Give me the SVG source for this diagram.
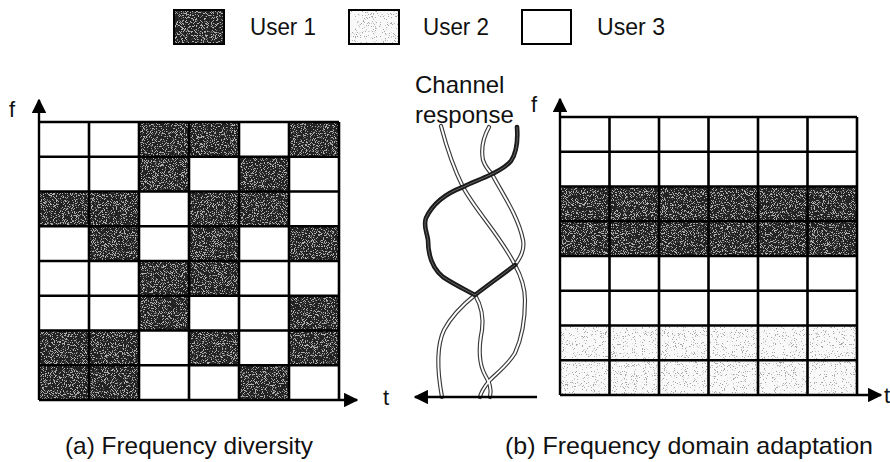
<svg xmlns="http://www.w3.org/2000/svg" width="890" height="462" viewBox="0 0 890 462">
<style>
.lbl{font-family:"Liberation Sans",Arial,sans-serif;font-size:24px;fill:#111}
.ax{font-family:"Liberation Sans",Arial,sans-serif;font-size:22px;fill:#111}
.grid{fill:none;stroke:#000;stroke-width:2.6}
.axis{fill:none;stroke:#000;stroke-width:2.4}
.dark{fill:#222}
.light{fill:#f9f9f9}
.box{stroke:#000;stroke-width:2}
.dbl-o{fill:none;stroke:#3a3a3a;stroke-width:4.2;stroke-linecap:round}
.dbl-i{fill:none;stroke:#fff;stroke-width:1.9;stroke-linecap:round}
.thk-o{fill:none;stroke:#1a1a1a;stroke-width:4.6;stroke-linecap:round}
.thk-i{fill:none;stroke:#666;stroke-width:1}
</style>
<defs>
<filter id="speckD" x="0" y="0" width="1" height="1" color-interpolation-filters="sRGB">
<feTurbulence type="fractalNoise" baseFrequency="1.1" numOctaves="2" seed="7" result="n"/>
<feColorMatrix in="n" type="matrix" values="0 0 0 0 0.7  0 0 0 0 0.7  0 0 0 0 0.7  14 0 0 0 -7.7" result="dots"/>
<feComposite in="dots" in2="SourceAlpha" operator="in" result="d2"/>
<feMerge><feMergeNode in="SourceGraphic"/><feMergeNode in="d2"/></feMerge>
</filter>
<filter id="speckL" x="0" y="0" width="1" height="1" color-interpolation-filters="sRGB">
<feTurbulence type="fractalNoise" baseFrequency="1.1" numOctaves="2" seed="3" result="n"/>
<feColorMatrix in="n" type="matrix" values="0 0 0 0 0.65  0 0 0 0 0.65  0 0 0 0 0.65  14 0 0 0 -8.8" result="dots"/>
<feComposite in="dots" in2="SourceAlpha" operator="in" result="d2"/>
<feMerge><feMergeNode in="SourceGraphic"/><feMergeNode in="d2"/></feMerge>
</filter>
<path id="cA" d="M441,126 C446,145 452,165 463,187 C475,210 500,235 515,265 C521,276 525,288 525,300 C525,320 521,340 515,353 C508,365 497,373 490,380 C485,386 481,392 480,397"/>
<path id="cB" d="M489,127 C483,138 481,150 483,160 C485,166 488,170 492,174 C500,190 518,215 523,240 C525,250 520,258 515,265"/>
<path id="cL" d="M475,295 C465,303 452,315 444,330 C437,345 437,370 442,397"/>
<path id="cM" d="M475,295 C481,305 484,315 482,330 C479,345 478,362 485,375 C489,382 492,388 490,397"/>
<path id="cT" d="M517,127 C518,140 517,152 511,161 C505,168 498,171 492,174 C482,179 471,183 463,187 C447,193 433,203 426,218 C423,226 427,232 428,240 C428,255 432,268 443,277 C455,285 466,290 475,295 C488,285 502,275 515,265"/>
<marker id="arr" viewBox="0 0 10 10" refX="9" refY="5" markerWidth="6" markerHeight="6" markerUnits="strokeWidth" orient="auto">
<path d="M0,0 L10,5 L0,10 z" fill="#000"/>
</marker>
</defs>
<rect width="890" height="462" fill="#fff"/>

<g id="legend">
<g id="legend-user1">
<rect class="box dark" x="174" y="10" width="50" height="34" filter="url(#speckD)"/>
<rect x="174" y="10" width="50" height="34" fill="none" stroke="#000" stroke-width="2"/>
<text class="lbl" x="250" y="35" textLength="66" lengthAdjust="spacingAndGlyphs">User 1</text>
</g>
<g id="legend-user2">
<rect class="box light" x="349" y="10" width="50" height="34" filter="url(#speckL)"/>
<rect x="349" y="10" width="50" height="34" fill="none" stroke="#000" stroke-width="2"/>
<text class="lbl" x="423" y="35" textLength="66" lengthAdjust="spacingAndGlyphs">User 2</text>
</g>
<g id="legend-user3">
<rect x="522" y="10" width="49" height="34" fill="#fff" stroke="#000" stroke-width="2"/>
<text class="lbl" x="597" y="35" textLength="68" lengthAdjust="spacingAndGlyphs">User 3</text>
</g>
</g>

<g id="grid-a">
<g class="dark" filter="url(#speckD)">
<rect x="139" y="122" width="50" height="34.75"/><rect x="189" y="122" width="50" height="34.75"/><rect x="289" y="122" width="50" height="34.75"/>
<rect x="139" y="156.75" width="50" height="34.75"/><rect x="239" y="156.75" width="50" height="34.75"/>
<rect x="39" y="191.5" width="50" height="34.75"/><rect x="89" y="191.5" width="50" height="34.75"/><rect x="189" y="191.5" width="50" height="34.75"/><rect x="239" y="191.5" width="50" height="34.75"/>
<rect x="89" y="226.25" width="50" height="34.75"/><rect x="189" y="226.25" width="50" height="34.75"/><rect x="289" y="226.25" width="50" height="34.75"/>
<rect x="139" y="261" width="50" height="34.75"/><rect x="189" y="261" width="50" height="34.75"/>
<rect x="139" y="295.75" width="50" height="34.75"/><rect x="289" y="295.75" width="50" height="34.75"/>
<rect x="39" y="330.5" width="50" height="34.75"/><rect x="89" y="330.5" width="50" height="34.75"/><rect x="189" y="330.5" width="50" height="34.75"/><rect x="289" y="330.5" width="50" height="34.75"/>
<rect x="39" y="365.25" width="50" height="34.75"/><rect x="89" y="365.25" width="50" height="34.75"/><rect x="239" y="365.25" width="50" height="34.75"/>
</g>
<path class="grid" d="M89,122V400 M139,122V400 M189,122V400 M239,122V400 M289,122V400 M339,122V400 M39,122H339 M39,156.75H339 M39,191.5H339 M39,226.25H339 M39,261H339 M39,295.75H339 M39,330.5H339 M39,365.25H339"/>
</g>

<g id="grid-b">
<rect class="dark" x="560" y="186.5" width="297" height="69.5" filter="url(#speckD)"/>
<rect class="light" x="560" y="325.5" width="297" height="69.5" filter="url(#speckL)"/>
<path class="grid" d="M609.5,117V395 M659,117V395 M708.5,117V395 M758,117V395 M807.5,117V395 M857,117V395 M560,117H857 M560,151.75H857 M560,186.5H857 M560,221.25H857 M560,256H857 M560,290.75H857 M560,325.5H857 M560,360.25H857"/>
</g>

<g id="channel-response">
<use href="#cA" class="dbl-o"/><use href="#cB" class="dbl-o"/><use href="#cL" class="dbl-o"/><use href="#cM" class="dbl-o"/>
<use href="#cA" class="dbl-i"/><use href="#cB" class="dbl-i"/><use href="#cL" class="dbl-i"/><use href="#cM" class="dbl-i"/>
<use href="#cT" class="thk-o"/><use href="#cT" class="thk-i"/>
<text class="lbl" x="415" y="93">Channel</text>
<text class="lbl" x="415" y="123">response</text>
</g>

<g id="connectors">
<path class="axis" d="M39,400 V100" marker-end="url(#arr)"/>
<path class="axis" d="M39,400 H357" marker-end="url(#arr)"/>
<path class="axis" d="M537,397 H415" marker-end="url(#arr)"/>
<path class="axis" d="M560,395 V99" marker-end="url(#arr)"/>
<path class="axis" d="M560,395 H881" marker-end="url(#arr)"/>
</g>

<g id="axis-labels">
<text class="ax" x="9" y="117">f</text>
<text class="ax" x="531" y="112">f</text>
<text class="ax" x="383" y="405">t</text>
<text class="ax" x="884" y="403">t</text>
</g>

<g id="captions">
<text class="lbl" x="65" y="454" textLength="248" lengthAdjust="spacingAndGlyphs">(a) Frequency diversity</text>
<text class="lbl" x="505" y="454" textLength="368" lengthAdjust="spacingAndGlyphs">(b) Frequency domain adaptation</text>
</g>
</svg>
